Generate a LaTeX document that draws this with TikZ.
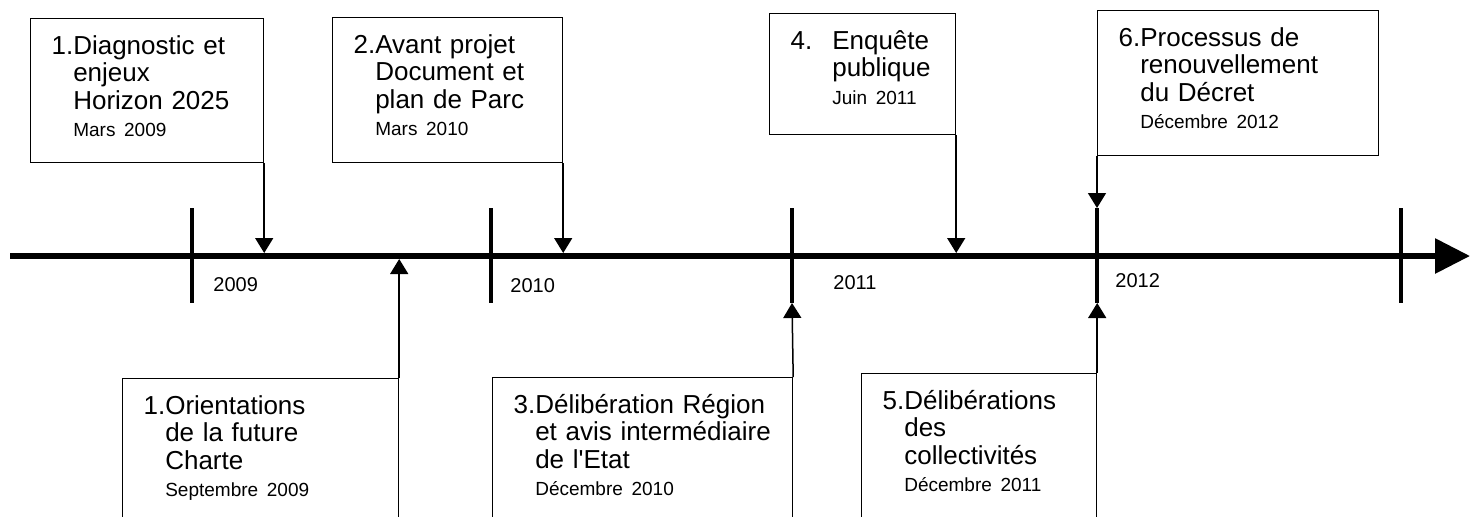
\documentclass[tikz,border=0pt]{standalone}
\usepackage{fontspec}
\setmainfont{Liberation Sans}
\usetikzlibrary{arrows.meta}

\newcommand{\jalon}[2]{\begin{tabular}[t]{@{}l@{}}#1\end{tabular}\begin{tabular}[t]{@{}l@{}}#2\end{tabular}}
\newcommand{\jdate}[1]{{\fontsize{9.5}{11}\selectfont #1}}

\begin{document}
\begin{tikzpicture}[x=0.5pt,y=-0.5pt,
	etape/.style 2 args={draw,line width=0.6pt,anchor=north west,inner xsep=10.5pt,inner ysep=0pt,
		text width=#1,text height=18pt,text depth=#2,font=\fontsize{13}{13.6}\selectfont},
	annee/.style={anchor=west,inner sep=0pt,font=\fontsize{10}{12}\selectfont},
	fleche/.style={line width=0.75pt,-{Triangle[width=9pt,length=7.5pt]}},
	graduation/.style={line width=2pt}]
	\path[use as bounding box,clip] (0,0) rectangle (1477,516);

	% axe du temps
	\coordinate (ax0) at (10,256);
	\coordinate (ax1) at (1470,256);
	\coordinate (axh) at (10,253);
	\coordinate (axb) at (10,259);
	\draw[line width=3pt,-{Triangle[width=17pt,length=17.5pt]}] (ax0) -- (ax1);

	\foreach \x/\n in {192/9,491/10,792/11,1097/12,1401/13}{
		\coordinate (h\n) at (\x,208);
		\coordinate (b\n) at (\x,303);
		\draw[graduation] (h\n) -- (b\n);
	}

	\node[annee] (an9)  at (213,285)  {2009};
	\node[annee] (an10) at (510,286)  {2010};
	\node[annee] (an11) at (833,283)  {2011};
	\node[annee] (an12) at (1115,281) {2012};

	% au-dessus de l'axe
	\node[etape={95.5pt}{54pt}]    (e1) at (30,18)   {\jalon{1.}{Diagnostic et\\enjeux\\Horizon 2025\\\jdate{Mars 2009}}};
	\node[etape={94pt}{54.5pt}]    (e2) at (332,17)  {\jalon{2.}{Avant projet\\Document et\\plan de Parc\\\jdate{Mars 2010}}};
	\node[etape={72pt}{42.5pt}]    (e4) at (769,13)  {\jalon{4.\hspace*{10pt}}{Enquête\\publique\\\jdate{Juin 2011}}};
	\node[etape={119.5pt}{54.5pt}] (e6) at (1097,10) {\jalon{6.}{Processus de\\renouvellement\\du Décret\\\jdate{Décembre 2012}}};

	% au-dessous de l'axe
	\node[etape={117pt}{60pt}]     (o1) at (122,378) {\jalon{1.}{Orientations\\de la future\\Charte\\\jdate{Septembre 2009}}};
	\node[etape={129pt}{60pt}]     (o3) at (492,377) {\jalon{3.}{Délibération Région\\et avis intermédiaire\\de l\textquotesingle Etat\\\jdate{Décembre 2010}}};
	\node[etape={96.5pt}{60pt}]    (o5) at (861,373) {\jalon{5.}{Délibérations\\des\\collectivités\\\jdate{Décembre 2011}}};

	\draw[fleche] (e1.south east) -- (e1.south east |- axh);
	\draw[fleche] (e2.south east) -- (e2.south east |- axh);
	\draw[fleche] (e4.south east) -- (e4.south east |- axh);
	\draw[fleche] (e6.south west) -- (h12);
	\draw[fleche] (o1.north east) -- (o1.north east |- axb);
	\draw[fleche] (o3.north east) -- (b11);
	\draw[fleche] (o5.north east) -- (o5.north east |- b12);
\end{tikzpicture}
\end{document}
